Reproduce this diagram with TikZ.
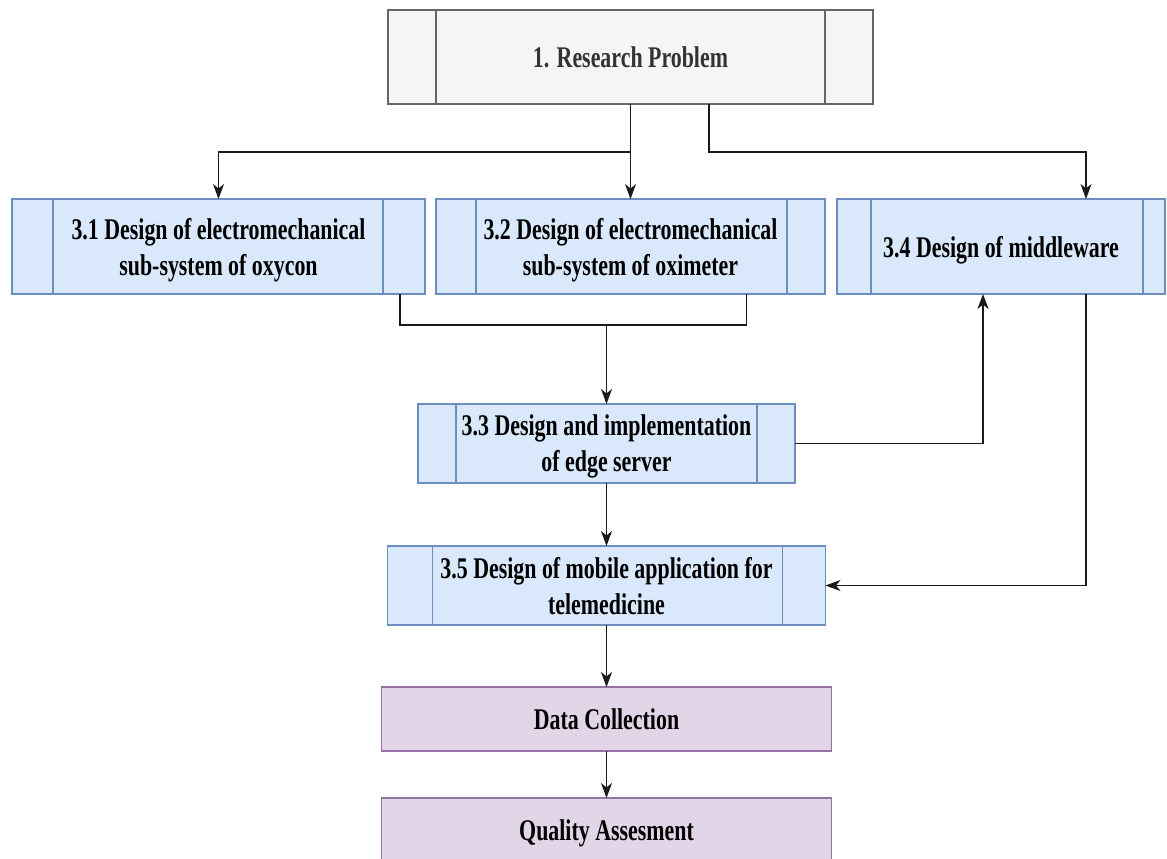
\documentclass[tikz,border=0pt]{standalone}
\usepackage{fontspec}
\setmainfont{Liberation Serif}[FakeStretch=0.73]
\usetikzlibrary{arrows.meta}

\definecolor{greyfill}{HTML}{F5F5F5}
\definecolor{greyline}{HTML}{666666}
\definecolor{greytext}{HTML}{333333}
\definecolor{bluefill}{HTML}{DAE8FC}
\definecolor{blueline}{HTML}{6C8EBF}
\definecolor{purplefill}{HTML}{E1D5E7}
\definecolor{purpleline}{HTML}{9673A6}
\definecolor{wire}{HTML}{1A1A1A}

\tikzset{
  boxbase/.style={rectangle, inner sep=0pt, outer sep=0pt, line width=1.4pt,
    align=center, text depth=0pt, font=\fontsize{30}{36}\selectfont\bfseries},
  greybox/.style={boxbase, draw=greyline, fill=greyfill, text=greytext},
  bluebox/.style={boxbase, draw=blueline, fill=bluefill, text=black},
  purplebox/.style={boxbase, draw=purpleline, fill=purplefill, text=black},
  arr/.style={draw=wire, line width=1.4pt, -{Stealth[length=15pt,width=11pt,inset=4.5pt]}},
  wireline/.style={draw=wire, line width=1.4pt},
}

% inner side bars of a process box: #1 node, #2 left offset, #3 right offset, #4 colour
\newcommand{\sidebars}[4]{%
  \draw[#4, line width=1.4pt] ([xshift=#2pt]#1.north west) -- ([xshift=#2pt]#1.south west);
  \draw[#4, line width=1.4pt] ([xshift=-#3pt]#1.north east) -- ([xshift=-#3pt]#1.south east);
}

\begin{document}
\begin{tikzpicture}[x=1pt, y=-1pt]
\useasboundingbox (0,0) rectangle (1167,859);
\clip (0,0) rectangle (1167,859);

% boxes
\node[greybox, minimum width=485pt, minimum height=94pt] (rp) at (630.5,57) {1. Research Problem};
\sidebars{rp}{48}{48}{greyline}

\node[bluebox, minimum width=413pt, minimum height=95pt] (b31) at (218.5,246.5)
  {3.1 Design of electromechanical\\sub-system of oxycon};
\sidebars{b31}{41}{42}{blueline}

\node[bluebox, minimum width=389pt, minimum height=95pt] (b32) at (630.5,246.5)
  {3.2 Design of electromechanical\\sub-system of oximeter};
\sidebars{b32}{40}{38}{blueline}

\node[bluebox, minimum width=328pt, minimum height=95pt] (b34) at (1001,246.5)
  {3.4 Design of middleware};
\sidebars{b34}{34}{22}{blueline}

\node[bluebox, minimum width=377pt, minimum height=79pt] (b33) at (606.5,443.5)
  {3.3 Design and implementation\\of edge server};
\sidebars{b33}{38}{38}{blueline}

\node[bluebox, minimum width=438pt, minimum height=79pt] (b35) at (606.5,585.5)
  {3.5 Design of mobile application for\\telemedicine};
\sidebars{b35}{45}{43}{blueline}

\node[purplebox, minimum width=450pt, minimum height=64pt] (dc) at (606.5,719) {Data Collection};
\node[purplebox, minimum width=450pt, minimum height=64pt] (qa) at (606.5,830) {Quality Assesment};

% connector ends on the box edges
\coordinate (rpout) at ([xshift=78.5pt]rp.south);
\coordinate (b34in) at ([xshift=85pt]b34.north);
\coordinate (b34out) at ([xshift=85pt]b34.south);
\coordinate (b34up) at ([xshift=-18pt]b34.south);
\coordinate (b31out) at ([xshift=181.5pt]b31.south);
\coordinate (b32out) at ([xshift=116pt]b32.south);
\coordinate (j1) at (630.5,152);
\coordinate (j2) at (606.5,325);

% connectors
\draw[arr] (rp.south) -- (b32.north);
\draw[arr] (j1) -| (b31.north);
\draw[arr] (rpout) |- (j1 -| b34in) -- (b34in);

\draw[wireline] (b31out) |- (j2) -| (b32out);
\draw[arr] (j2) -- (b33.north);

\draw[arr] (b33.east) -| (b34up);
\draw[arr] (b34out) |- (b35.east);

\draw[arr] (b33.south) -- (b35.north);
\draw[arr] (b35.south) -- (dc.north);
\draw[arr] (dc.south) -- (qa.north);
\end{tikzpicture}
\end{document}
